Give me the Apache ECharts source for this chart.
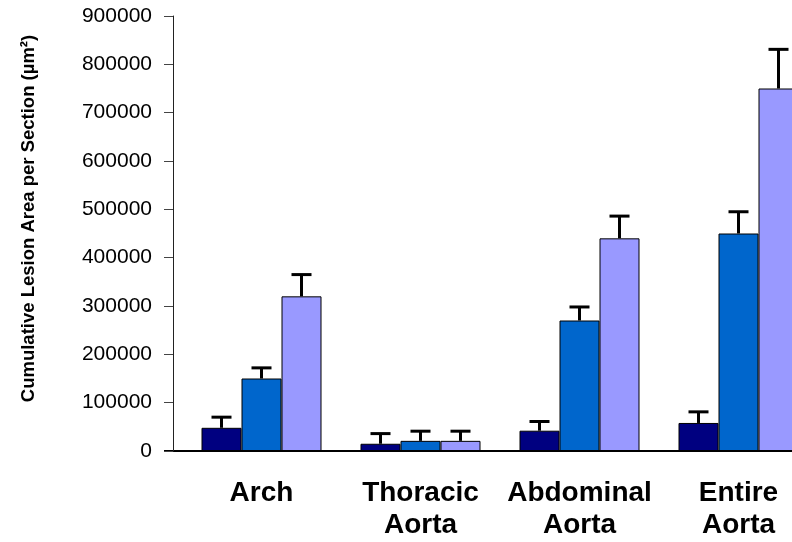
<!DOCTYPE html>
<html>
<head>
<meta charset="utf-8">
<script src="https://cdn.jsdelivr.net/npm/echarts@6/dist/echarts.min.js"></script>
<style>
  html, body { margin: 0; padding: 0; background: #fff; }
  #chart { width: 792px; height: 542px; }
</style>
</head>
<body>
<div id="chart"></div>
<script>
// Aortic regions along the category axis
const categories = ['Arch', 'Thoracic\nAorta', 'Abdominal\nAorta', 'Entire\nAorta'];

// Mean cumulative lesion area per section (µm²) for the three groups
const groupA = [48000, 15000, 42000, 58000];
const groupB = [150000, 21000, 270000, 450000];
const groupC = [320000, 21000, 440000, 750000];

// Standard error of each mean (upper whisker only)
const errA = [22000, 21000, 19000, 23000];
const errB = [22000, 20000, 28000, 45000];
const errC = [45000, 20000, 46000, 81000];

// Value-axis ticks
const yTicks = [0, 100000, 200000, 300000, 400000, 500000, 600000, 700000, 800000, 900000];

const colors = ['#000080', '#0066CC', '#9999FF'];
const groups = [groupA, groupB, groupC];
const errors = [errA, errB, errC];

const BAR_W = 40;
const GRID_LEFT = 182;
const GRID_WIDTH = 636;
const Y_OFFSET = 9;

const chart = echarts.init(document.getElementById('chart'), null, { renderer: 'canvas' });

function errorSeries(idx) {
  const vals = groups[idx];
  const errs = errors[idx];
  return {
    type: 'custom',
    z: 5,
    silent: true,
    data: vals.map((v, i) => [i, v, v + errs[i]]),
    renderItem: function (params, api) {
      const ci = api.value(0);
      const base = api.coord([ci, api.value(1)]);
      const top = api.coord([ci, api.value(2)]);
      const x = base[0] + (idx - 1) * BAR_W;
      const half = 10;
      const style = { stroke: '#000', lineWidth: 3 };
      return {
        type: 'group',
        children: [
          { type: 'line', shape: { x1: x, y1: base[1], x2: x, y2: top[1] }, style: style },
          { type: 'line', shape: { x1: x - half, y1: top[1], x2: x + half, y2: top[1] }, style: style }
        ]
      };
    }
  };
}

const barSeries = groups.map((vals, idx) => ({
  type: 'bar',
  data: vals,
  barWidth: BAR_W,
  barGap: '0%',
  itemStyle: { color: colors[idx], borderColor: '#000', borderWidth: 1 },
  z: 3
}));

chart.setOption({
  animation: false,
  backgroundColor: '#fff',
  grid: {
    left: GRID_LEFT, width: GRID_WIDTH, top: 16, bottom: 91,
    containLabel: false, outerBoundsMode: 'none'
  },
  xAxis: {
    type: 'category',
    data: categories,
    axisLine: { show: true, lineStyle: { color: '#000', width: 2 } },
    axisTick: { show: false },
    axisLabel: {
      interval: 0,
      margin: 26,
      fontFamily: 'Liberation Sans, Arial, sans-serif',
      fontWeight: 'bold',
      fontSize: 28,
      lineHeight: 32,
      color: '#000'
    }
  },
  yAxis: {
    type: 'value',
    min: yTicks[0],
    max: yTicks[yTicks.length - 1],
    interval: yTicks[1] - yTicks[0],
    offset: Y_OFFSET,
    name: 'Cumulative Lesion Area per Section (µm²)',
    nameLocation: 'middle',
    nameRotate: 90,
    nameGap: 135,
    nameTextStyle: {
      fontFamily: 'Liberation Sans, Arial, sans-serif',
      fontWeight: 'bold',
      fontSize: 18.5,
      color: '#000',
      padding: [0, 0, 0, 30]
    },
    axisLine: { show: true, lineStyle: { color: '#222', width: 1 } },
    axisTick: { show: true, length: 9, inside: false, lineStyle: { color: '#444', width: 1 } },
    splitLine: { show: false },
    axisLabel: {
      margin: 21,
      fontFamily: 'Liberation Sans, Arial, sans-serif',
      fontSize: 21,
      color: '#000',
      formatter: function (v) { return String(v); }
    }
  },
  series: barSeries.concat([errorSeries(0), errorSeries(1), errorSeries(2)])
});

// Extend the baseline left to meet the offset value axis
const y0 = chart.convertToPixel({ yAxisIndex: 0 }, 0);
chart.setOption({
  graphic: [{
    type: 'line',
    shape: { x1: GRID_LEFT - Y_OFFSET - 9, y1: y0, x2: GRID_LEFT, y2: y0 },
    style: { stroke: '#000', lineWidth: 2 }
  }]
});
</script>
</body>
</html>
